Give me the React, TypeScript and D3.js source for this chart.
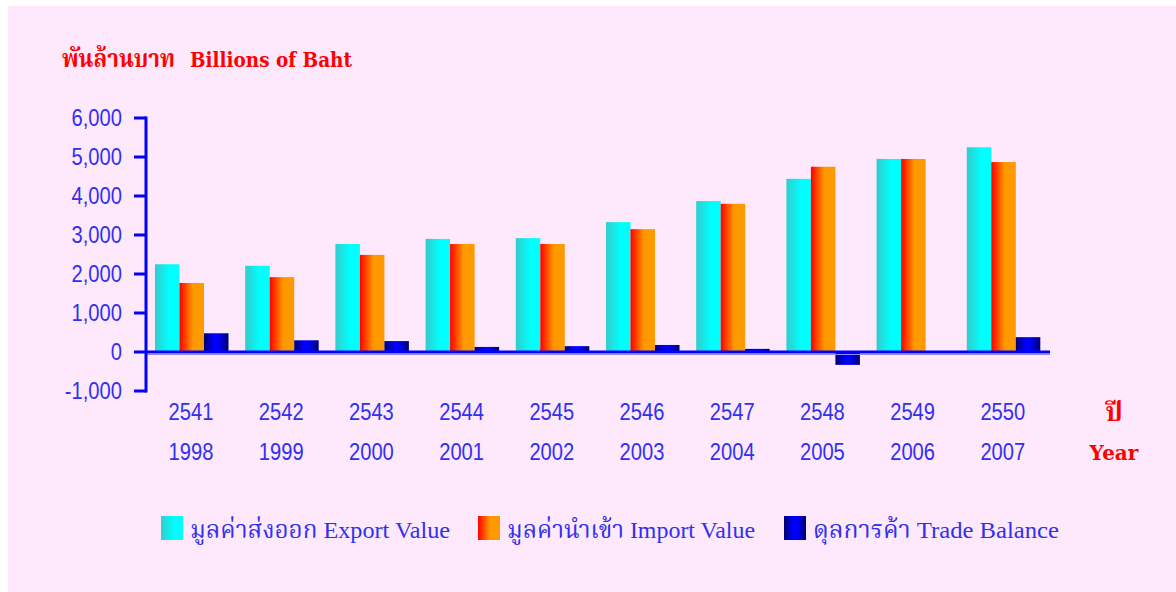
import React from "react";
import * as d3 from "d3";

const yearsBE = ["2541", "2542", "2543", "2544", "2545", "2546", "2547", "2548", "2549", "2550"];
const yearsAD = ["1998", "1999", "2000", "2001", "2002", "2003", "2004", "2005", "2006", "2007"];
const exportValue = [2250, 2210, 2770, 2900, 2920, 3330, 3870, 4440, 4950, 5250];
const importValue = [1770, 1920, 2490, 2770, 2770, 3150, 3800, 4750, 4950, 4870];
const tradeBalance = [480, 300, 280, 130, 150, 180, 80, -330, -5, 380];
const yTicks = [-1000, 0, 1000, 2000, 3000, 4000, 5000, 6000];
const seriesNames = [
  "มูลค่าส่งออก Export Value",
  "มูลค่านำเข้า Import Value",
  "ดุลการค้า Trade Balance",
];

const W = 1176;
const H = 592;
const OX = 8;
const OY = 6;
const BG = "#FDE8FC";
const BLUE = "#0000FF";
const TXT = "#3030F0";
const RED = "#FF0000";
const NUM_FONT = "'Liberation Sans', Arial, sans-serif";
const THAI_FONT = "'Liberation Serif', 'Noto Serif Thai', 'Noto Sans Thai', 'Noto Sans', serif";
const SX = 0.84;

const fmt = (t: number) => d3.format(",")(t).replace("\u2212", "-");

export default function App() {
  const x = d3.scaleBand<string>().domain(yearsAD).range([146, 1048]).padding(0);
  const inner = d3
    .scaleBand<string>()
    .domain(["e", "i", "b"])
    .range([9, 82.5])
    .padding(0);
  const y = d3.scaleLinear().domain([-1000, 6000]).range([391, 118]);

  const series = [
    { key: "e", values: exportValue, grad: "gExp" },
    { key: "i", values: importValue, grad: "gImp" },
    { key: "b", values: tradeBalance, grad: "gBal" },
  ];

  const legendX = [161, 478, 784];
  const legendLen = [260, 248, 246];

  return (
    <svg
      width={W - OX}
      height={H - OY}
      style={{ position: "absolute", left: OX, top: OY, display: "block" }}
    >
      <defs>
        <linearGradient id="gExp" x1="0" x2="1" y1="0" y2="0">
          <stop offset="0" stopColor="#33CCCC" />
          <stop offset="0.6" stopColor="#00FFFF" />
          <stop offset="1" stopColor="#00FFFF" />
        </linearGradient>
        <linearGradient id="gImp" x1="0" x2="1" y1="0" y2="0">
          <stop offset="0" stopColor="#FF0000" />
          <stop offset="0.55" stopColor="#FF9900" />
          <stop offset="1" stopColor="#FF9900" />
        </linearGradient>
        <linearGradient id="gBal" x1="0" x2="1" y1="0" y2="0">
          <stop offset="0" stopColor="#000070" />
          <stop offset="0.42" stopColor="#0000FF" />
          <stop offset="0.58" stopColor="#0000FF" />
          <stop offset="1" stopColor="#000070" />
        </linearGradient>
      </defs>
      <g transform={`translate(${-OX},${-OY})`}>
        <rect x={OX} y={OY} width={W - OX} height={H - OY} fill={BG} />

        {/* title */}
        <text
          x={62}
          y={67}
          fill={RED}
          fontWeight="bold"
          fontSize={24}
          fontFamily={THAI_FONT}
          textLength={113}
          lengthAdjust="spacingAndGlyphs"
        >
          พันล้านบาท
        </text>
        <text
          x={190}
          y={67}
          fill={RED}
          fontWeight="bold"
          fontSize={21}
          fontFamily="'DejaVu Serif', serif"
          textLength={162}
          lengthAdjust="spacingAndGlyphs"
        >
          Billions of Baht
        </text>

        {/* bars */}
        {series.map((s) =>
          s.values.map((v, i) => {
            const x0 = (x(yearsAD[i]) as number) + (inner(s.key) as number);
            const y0 = y(Math.max(0, v));
            const y1 = y(Math.min(0, v));
            return (
              <rect
                key={s.key + i}
                x={x0}
                y={y0}
                width={inner.bandwidth()}
                height={Math.max(0, y1 - y0)}
                fill={`url(#${s.grad})`}
              />
            );
          })
        )}

        {/* zero line */}
        <line x1={146} x2={1050} y1={y(0) + 2.5} y2={y(0) + 2.5} stroke="#9A8AF8" strokeWidth={1} />
        <line x1={146} x2={1050} y1={y(0)} y2={y(0)} stroke={BLUE} strokeWidth={3} />

        {/* y axis */}
        <line x1={146} x2={146} y1={y(6000) - 1.5} y2={y(-1000) + 1.5} stroke={BLUE} strokeWidth={3} />
        {yTicks.map((t) => (
          <g key={t}>
            <line x1={134} x2={146} y1={y(t)} y2={y(t)} stroke={BLUE} strokeWidth={3} />
            <text
              transform={`translate(122,${y(t) + 8}) scale(${SX},1)`}
              textAnchor="end"
              fill={TXT}
              fontSize={24}
              fontFamily={NUM_FONT}
            >
              {fmt(t)}
            </text>
          </g>
        ))}

        {/* x labels */}
        {yearsAD.map((yr, i) => {
          const cx = (x(yr) as number) + 45;
          return (
            <g key={yr}>
              <text
                transform={`translate(${cx},420) scale(${SX},1)`}
                textAnchor="middle"
                fill={TXT}
                fontSize={24}
                fontFamily={NUM_FONT}
              >
                {yearsBE[i]}
              </text>
              <text
                transform={`translate(${cx},460) scale(${SX},1)`}
                textAnchor="middle"
                fill={TXT}
                fontSize={24}
                fontFamily={NUM_FONT}
              >
                {yr}
              </text>
            </g>
          );
        })}

        <text x={1114} y={421} textAnchor="middle" fill={RED} fontWeight="bold" fontSize={26} fontFamily={THAI_FONT}>
          ปี
        </text>
        <text x={1114} y={460} textAnchor="middle" fill={RED} fontWeight="bold" fontSize={20} fontFamily="'DejaVu Serif', serif">
          Year
        </text>

        {/* legend */}
        {series.map((s, i) => (
          <g key={s.key}>
            <rect x={legendX[i]} y={516} width={22} height={24} fill={`url(#${s.grad})`} />
            <text
              x={legendX[i] + 29}
              y={538}
              fill={TXT}
              fontSize={24}
              fontFamily={THAI_FONT}
              textLength={legendLen[i]}
              lengthAdjust="spacingAndGlyphs"
            >
              {seriesNames[i]}
            </text>
          </g>
        ))}
      </g>
    </svg>
  );
}
